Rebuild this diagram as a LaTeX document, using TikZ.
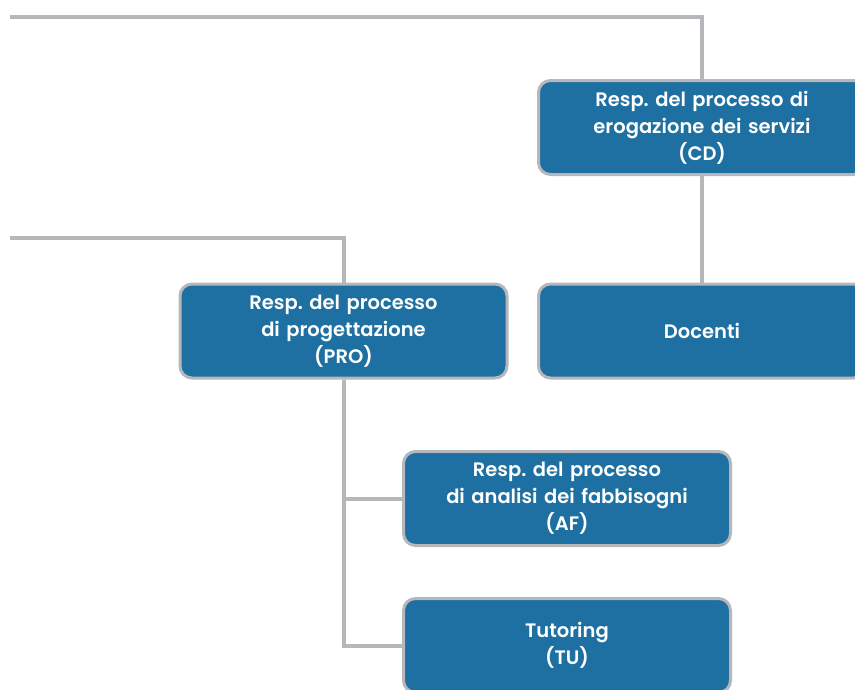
\documentclass[tikz,border=0pt]{standalone}
\usepackage{fontspec}
\setmainfont{Poppins}[BoldFont={Poppins SemiBold}]
\usepackage{xcolor}
\usepackage{tikz}
\usetikzlibrary{positioning}
\definecolor{boxblue}{HTML}{1D70A1}
\definecolor{linegray}{HTML}{B5B7BB}
\frenchspacing

\tikzset{
  rolebox/.style={fill=boxblue, draw=linegray, line width=3pt, rounded corners=12pt,
    minimum width=327pt, minimum height=94pt, text width=315pt, align=center,
    text=white, font=\fontsize{19.5}{27}\selectfont\bfseries, inner sep=0pt},
  link/.style={draw=linegray, line width=4pt}
}

\begin{document}
\begin{tikzpicture}[x=1pt, y=-1pt]
\useasboundingbox (0,0) rectangle (855,689);

% vertici dell'organigramma
\node[rolebox] (cd) at (702,127.5) {Resp. del processo di\\erogazione dei servizi\\(CD)};
\node[rolebox] (doc) at (702,331) {Docenti};
\node[rolebox] (pro) at (343.5,331) {Resp. del processo\\di progettazione\\(PRO)};
\node[rolebox] (af) at (567,498.5) {Resp. del processo\\di analisi dei fabbisogni\\(AF)};
\node[rolebox] (tu) at (567,645.5) {Tutoring\\(TU)};

% linee che arrivano da sinistra
\coordinate (topin) at (10,17);
\coordinate (midin) at (10,238);

\draw[link] (topin) -| (cd.north);
\draw[link] (cd.south) -- (doc.north);
\draw[link] (midin) -| (pro.north);
\draw[link] (pro.south) |- (af.west);
\draw[link] (pro.south) |- (tu.west);
\end{tikzpicture}
\end{document}
